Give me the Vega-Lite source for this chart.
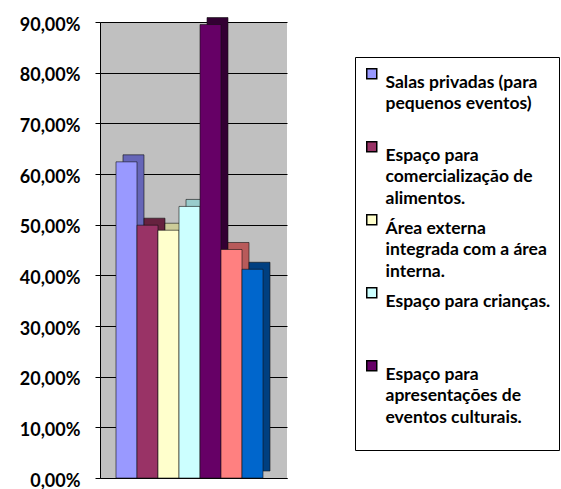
{
  "$schema": "https://vega.github.io/schema/vega-lite/v6.json",
  "autosize": "none",
  "width": 187,
  "height": 456,
  "padding": {"left": 100, "top": 22, "right": 274, "bottom": 11},
  "background": "white",
  "config": {
    "locale": {"number": {"decimal": ",", "thousands": ".", "grouping": [3], "currency": ["R$", ""]}},
    "view": {"fill": "#C0C0C0", "stroke": null},
    "font": "Lato"
  },
  "data": {
    "values": [
      {"ordem": 1, "serie": "Salas privadas (para pequenos eventos)", "valor": 0.624},
      {"ordem": 2, "serie": "Espaço para comercialização de alimentos.", "valor": 0.499},
      {"ordem": 3, "serie": "Área externa integrada com a área interna.", "valor": 0.489},
      {"ordem": 4, "serie": "Espaço para crianças.", "valor": 0.536},
      {"ordem": 5, "serie": "Espaço para apresentações de eventos culturais.", "valor": 0.895},
      {"ordem": 6, "serie": "Espaço para eventos.", "valor": 0.451},
      {"ordem": 7, "serie": "Outros.", "valor": 0.412}
    ]
  },
  "encoding": {
    "x": {
      "field": "serie",
      "type": "nominal",
      "sort": {"field": "ordem"},
      "scale": {"paddingInner": 0, "paddingOuter": 0.952, "align": 0.4},
      "axis": {"labels": false, "ticks": false, "title": null, "domainColor": "black", "domainWidth": 1}
    },
    "y": {
      "field": "valor",
      "type": "quantitative",
      "scale": {"domain": [0, 0.9], "nice": false},
      "axis": {
        "format": ".2%",
        "values": [0, 0.1, 0.2, 0.3, 0.4, 0.5, 0.6, 0.7, 0.8, 0.9],
        "title": null,
        "labelFont": "Lato",
        "labelFontWeight": "bold",
        "labelFontSize": 18,
        "labelColor": "black",
        "labelPadding": 15,
        "labelOffset": 3,
        "tickSize": 5,
        "tickColor": "black",
        "domainColor": "black",
        "gridColor": "black",
        "gridWidth": 1,
        "gridOpacity": 1
      }
    }
  },
  "layer": [
    {
      "mark": {"type": "bar", "xOffset": 7, "yOffset": -7, "stroke": "#111111", "strokeWidth": 0.6},
      "encoding": {
        "fill": {
          "field": "ordem",
          "type": "nominal",
          "scale": {"range": ["#6666B8", "#66223F", "#CCCC99", "#99CCCC", "#330033", "#B85A5A", "#003F80"]},
          "legend": null
        }
      }
    },
    {
      "mark": {"type": "bar", "stroke": "#111111", "strokeWidth": 0.6, "opacity": 1},
      "encoding": {
        "color": {
          "field": "serie",
          "type": "nominal",
          "sort": {"field": "ordem"},
          "scale": {"range": ["#9999FF", "#993366", "#FFFFCC", "#CCFFFF", "#660066", "#FF8080", "#0066CC"]},
          "legend": {
            "orient": "none",
            "legendX": 255,
            "legendY": 35,
            "title": " ",
            "titleOrient": "bottom",
            "titleFontSize": 16,
            "titlePadding": 0,
            "values": [
              "Salas privadas (para pequenos eventos)",
              "Espaço para comercialização de alimentos.",
              "Área externa integrada com a área interna.",
              "Espaço para crianças.",
              "Espaço para apresentações de eventos culturais."
            ],
            "labelExpr": "datum.label == 'Salas privadas (para pequenos eventos)' ? ['Salas privadas (para', 'pequenos eventos)'] : datum.label == 'Espaço para comercialização de alimentos.' ? ['Espaço para', 'comercialização de', 'alimentos.'] : datum.label == 'Área externa integrada com a área interna.' ? ['Área externa', 'integrada com a área', 'interna.'] : datum.label == 'Espaço para apresentações de eventos culturais.' ? ['Espaço para', 'apresentações de', 'eventos culturais.'] : datum.label",
            "labelFont": "Lato",
            "labelFontWeight": "bold",
            "labelFontSize": 17.5,
            "labelColor": "black",
            "labelLimit": 400,
            "labelBaseline": "top",
            "labelOffset": 5,
            "symbolType": "square",
            "symbolSize": 100,
            "symbolStrokeColor": "black",
            "symbolStrokeWidth": 1.5,
            "symbolOpacity": 1,
            "gridAlign": "all",
            "rowPadding": 3,
            "padding": 8,
            "strokeColor": "black",
            "fillColor": "white",
            "encode": {"labels": {"update": {"lineHeight": {"value": 21.5}}}}
          }
        }
      }
    }
  ]
}
